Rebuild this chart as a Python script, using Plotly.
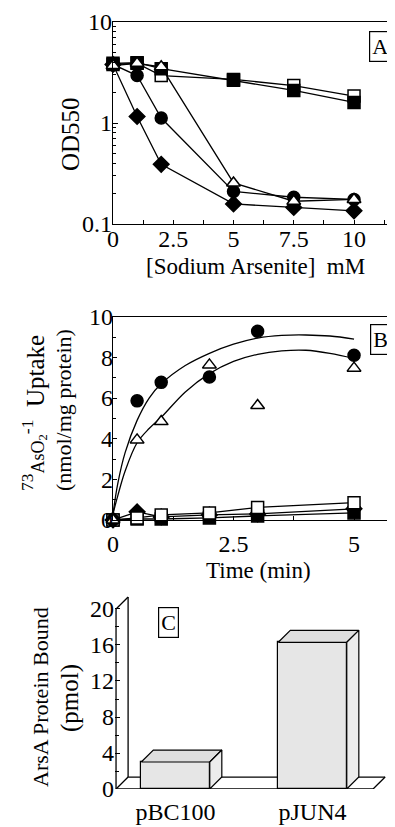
import plotly.graph_objects as go

# ---------------- data ----------------
# Panel A
conc = [0, 1, 2, 5, 7.5, 10]
A_open_sq = [3.8, 3.9, 2.95, 2.7, 2.35, 1.85]
A_filled_sq = [3.9, 3.95, 3.45, 2.65, 2.1, 1.6]
A_open_tri = [3.7, 3.9, 3.6, 0.255, 0.168, 0.175]
A_circle = [3.8, 2.95, 1.12, 0.21, 0.184, 0.175]
A_diamond = [3.8, 1.16, 0.39, 0.158, 0.146, 0.135]
A_xticks = [0, 2.5, 5, 7.5, 10]
A_xticklabels = ["0", "2.5", "5", "7.5", "10"]
A_yticks = [0.1, 1, 10]
A_yticklabels = ["0.1", "1", "10"]

# Panel B
time = [0, 0.5, 1, 2, 3, 5]
B_circle = [0, 5.86, 6.77, 7.03, 9.28, 8.1]
B_tri = [0, 3.94, 4.84, 7.63, 5.63, 7.47]
B_open_sq = [0, 0.1, 0.25, 0.35, 0.62, 0.85]
B_filled_sq = [0, 0.05, 0.05, 0.1, 0.2, 0.35]
B_diamond = [0, 0.4, 0.15, 0.25, 0.3, 0.55]
fit_t = [0, 0.1, 0.25, 0.5, 0.75, 1, 1.5, 2, 2.5, 3, 3.5, 4, 4.5, 5]
fit_upper = [0.3, 1.8, 3.3, 4.9, 6.0, 6.7, 7.6, 8.2, 8.65, 8.95, 9.08, 9.1, 9.05, 8.9]
fit_lower = [0.3, 1.2, 2.4, 3.8, 4.5, 5.05, 6.3, 7.2, 7.8, 8.15, 8.32, 8.35, 8.2, 7.95]
B_xticks = [0, 2.5, 5]
B_xticklabels = ["0", "2.5", "5"]
B_yticks = [0, 2, 4, 6, 8, 10]

# Panel C
C_categories = ["pBC100", "pJUN4"]
C_values = [3.0, 16.3]
C_yticks = [0, 4, 8, 12, 16, 20]

# ---------------- style ----------------
OFF = 8                      # default page body margin
W, H = 395 - OFF, 827 - OFF  # figure size so the page fits the window
FONT = "Liberation Serif"
TICKFONT = dict(family=FONT, size=24, color="black")
BLACK = "black"
LW = 1.3
MS = 12

def X(x):
    return (x - OFF) / W

def Y(y):
    return 1 - (y - OFF) / H

fig = go.Figure()

# ---------- Panel A ----------
def add_a(y, symbol, fill):
    fig.add_trace(go.Scatter(
        x=conc, y=y, mode="lines+markers", xaxis="x", yaxis="y",
        line=dict(color=BLACK, width=LW),
        marker=dict(symbol=symbol, size=MS, color=fill,
                    line=dict(color=BLACK, width=1.5)),
        showlegend=False, cliponaxis=False))

add_a(A_open_sq, "square", "white")
add_a(A_filled_sq, "square", BLACK)
add_a(A_circle, "circle", BLACK)
add_a(A_diamond, "diamond", BLACK)
add_a(A_open_tri, "triangle-up", "white")

# ---------- Panel B ----------
for fy in (fit_upper, fit_lower):
    fig.add_trace(go.Scatter(
        x=fit_t, y=fy, mode="lines", xaxis="x2", yaxis="y2",
        line=dict(color=BLACK, width=LW, shape="spline", smoothing=1.0),
        showlegend=False))

def add_b(y, symbol, fill, mode="lines+markers"):
    fig.add_trace(go.Scatter(
        x=time, y=y, mode=mode, xaxis="x2", yaxis="y2",
        line=dict(color=BLACK, width=LW),
        marker=dict(symbol=symbol, size=MS, color=fill,
                    line=dict(color=BLACK, width=1.5)),
        showlegend=False, cliponaxis=False))

add_b(B_diamond, "diamond", BLACK)
add_b(B_filled_sq, "square", BLACK)
add_b(B_open_sq, "square", "white")
add_b(B_circle, "circle", BLACK, mode="markers")
add_b(B_tri, "triangle-up", "white", mode="markers")

# ---------- Panel C (pseudo 3D bars) ----------
xpos = [0, 1]
bw = 0.5
dx = 0.088      # depth offset in x data units
dy = 1.33       # depth offset in y data units
x_wall = -0.434
x_floor_end = 1.442
FACE = "#e6e6e6"
TOP = "#dedede"
SIDE = "#ececec"

fig.add_trace(go.Bar(
    x=xpos, y=C_values, width=bw, xaxis="x3", yaxis="y3",
    marker=dict(color=FACE, line=dict(color=BLACK, width=1.2)),
    showlegend=False))

for xc, v in zip(xpos, C_values):
    xl, xr = xc - bw / 2, xc + bw / 2
    fig.add_trace(go.Scatter(
        x=[xl, xr, xr + dx, xl + dx, xl], y=[v, v, v + dy, v + dy, v],
        mode="lines", fill="toself", fillcolor=TOP, xaxis="x3", yaxis="y3",
        line=dict(color=BLACK, width=1.2), showlegend=False))
    fig.add_trace(go.Scatter(
        x=[xr, xr, xr + dx, xr + dx, xr], y=[0, v, v + dy, dy, 0],
        mode="lines", fill="toself", fillcolor=SIDE, xaxis="x3", yaxis="y3",
        line=dict(color=BLACK, width=1.2), showlegend=False))

shapes = []
def seg(x0, y0, x1, y1):
    shapes.append(dict(type="line", xref="x3", yref="y3", x0=x0, y0=y0,
                       x1=x1, y1=y1, line=dict(color=BLACK, width=1.3),
                       layer="below"))

ytop = C_yticks[-1]
seg(x_wall, 0, x_wall, ytop)
seg(x_wall, ytop, x_wall + dx, ytop + dy)
seg(x_wall + dx, ytop + dy, x_wall + dx, dy)
seg(x_wall, 0, x_floor_end, 0)
seg(x_floor_end, 0, x_floor_end + dx, dy)
seg(x_wall + dx, dy, x_floor_end + dx, dy)
seg(x_wall, 0, x_wall + dx, dy)

# ---------- axes ----------
axis_common = dict(showgrid=False, zeroline=False, linecolor=BLACK, linewidth=1.3,
                   ticks="inside", tickcolor=BLACK, tickfont=TICKFONT,
                   automargin=False)

fig.update_layout(
    width=W, height=H, margin=dict(l=0, r=0, t=0, b=0, autoexpand=False),
    paper_bgcolor="white", plot_bgcolor="white", showlegend=False,
    xaxis=dict(**axis_common, domain=[X(113), 1], range=[0, 11.7],
               tickvals=A_xticks, ticktext=A_xticklabels, ticklen=4,
               ticklabelstandoff=-7,
               showline=True, mirror=True, anchor="y",
               minor=dict(tickvals=[1.25, 3.75, 6.25, 8.75, 11.25],
                          ticks="inside", ticklen=4, tickcolor=BLACK)),
    yaxis=dict(**axis_common, domain=[Y(224), Y(22)], type="log", range=[-1, 1],
               tickvals=A_yticks, ticktext=A_yticklabels, ticklen=5,
               ticklabelstandoff=-5,
               showline=True, anchor="x",
               minor=dict(tickvals=[0.2, 0.3, 0.4, 0.5, 0.6, 0.7, 0.8, 0.9,
                                    2, 3, 4, 5, 6, 7, 8, 9],
                          ticks="inside", ticklen=3, tickcolor=BLACK)),
    xaxis2=dict(**axis_common, domain=[X(113), 1], range=[0, 5.85],
                tickvals=B_xticks, ticktext=B_xticklabels, ticklen=4,
                ticklabelstandoff=2,
                showline=True, mirror=True, anchor="y2",
                minor=dict(tickvals=[1.25, 3.75], ticks="inside", ticklen=4,
                           tickcolor=BLACK)),
    yaxis2=dict(**axis_common, domain=[Y(520), Y(316.7)], range=[0, 10],
                tickvals=B_yticks, ticklen=4, showline=True, anchor="x2",
                ticklabelstandoff=-6,
                minor=dict(tickvals=[1, 3, 5, 7, 9], ticks="inside", ticklen=3,
                           tickcolor=BLACK)),
    xaxis3=dict(showgrid=False, zeroline=False, showline=False, ticks="",
                domain=[X(115), 1], range=[-0.4416, 1.602],
                tickvals=xpos, ticktext=C_categories, tickfont=TICKFONT,
                ticklabelstandoff=6, anchor="y3", automargin=False),
    yaxis3=dict(showgrid=False, zeroline=False, showline=False, ticks="inside",
                ticklen=5, tickcolor=BLACK, tickfont=TICKFONT,
                domain=[Y(789), Y(590)], range=[0, 22.11],
                tickvals=C_yticks, anchor="x3", automargin=False,
                ticklabelstandoff=0,
                minor=dict(tickvals=[2, 6, 10, 14, 18], ticks="inside",
                           ticklen=4, tickcolor=BLACK)),
    shapes=shapes,
    bargap=0,
)

def ann(text, x, y, size=22, angle=0, box=False):
    d = dict(text=text, xref="paper", yref="paper", x=X(x), y=Y(y),
             showarrow=False, textangle=angle, xanchor="center", yanchor="middle",
             font=dict(family=FONT, size=size, color=BLACK))
    if box:
        d.update(bordercolor=BLACK, borderwidth=1.2, borderpad=2, bgcolor="white")
    fig.add_annotation(**d)

ann("A", 380, 46.5, size=22, box=True)
ann("B", 380.5, 339.5, size=22, box=True)
ann("C", 168.5, 622.5, size=22, box=True)

ann("OD550", 70, 134, size=25, angle=-90)
ann("[Sodium Arsenite]  mM", 256, 266, size=23)
ann("<sup>73</sup><span style='font-size:18px'>AsO<sub>2</sub></span><sup>-1</sup>  Uptake",
    33, 413, size=25, angle=-90)
ann("(nmol/mg protein)", 63, 410, size=22, angle=-90)
ann("Time (min)", 258, 570, size=23)
ann("ArsA Protein Bound", 40, 697, size=22, angle=-90)
ann("(pmol)", 70, 698, size=25, angle=-90)

fig.write_html("out.html")
